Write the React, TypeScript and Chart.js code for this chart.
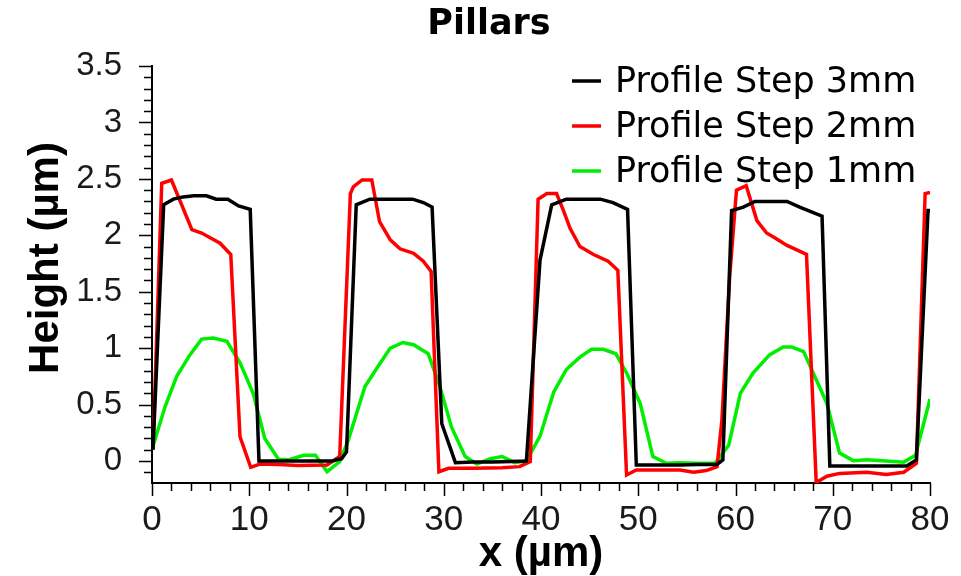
import React, { useEffect, useRef } from "react";
import { Chart, registerables } from "chart.js";

Chart.register(...registerables);

const chartTitle = "Pillars";
const xAxisTitle = "x (µm)";
const yAxisTitle = "Height (µm)";
const seriesNames = ["Profile Step 3mm", "Profile Step 2mm", "Profile Step 1mm"];
const seriesColors = ["#000000", "#ff0000", "#00ee00"];

const yTickValues = [0, 0.5, 1, 1.5, 2, 2.5, 3, 3.5];
const xTickValues = [0, 10, 20, 30, 40, 50, 60, 70, 80];

const step3X = [0.1, 1.2, 2.2, 3.2, 4.3, 5.6, 6.6, 7.8, 8.9, 10.1, 11.0, 13, 15, 17, 18.5, 19.5, 20.0, 21.0, 22.4, 24, 25.5, 26.8, 27.9, 28.8, 29.8, 31.2, 33, 35, 37, 38.5, 39.9, 41.1, 42.6, 44, 46.1, 47.4, 48.9, 49.8, 52, 54.3, 56, 58.1, 58.7, 59.6, 60.8, 62.0, 63.5, 65.3, 66.6, 68.9, 69.7, 72, 74, 76, 77.6, 78.6, 79.8, 80];
const step3Y = [0.1, 2.27, 2.32, 2.34, 2.35, 2.35, 2.32, 2.32, 2.26, 2.23, 0.0, 0.0, 0.0, 0.0, 0.0, 0.02, 0.08, 2.27, 2.32, 2.32, 2.32, 2.32, 2.29, 2.25, 0.33, -0.015, -0.01, -0.01, -0.005, 0.0, 1.78, 2.27, 2.32, 2.32, 2.32, 2.29, 2.23, -0.035, -0.035, -0.035, -0.03, -0.03, 0.01, 2.22, 2.25, 2.3, 2.3, 2.3, 2.25, 2.17, -0.045, -0.045, -0.045, -0.045, -0.045, 0.01, 2.22, 2.22];

const step2X = [0.1, 1.0, 2.0, 4.1, 5.1, 7.0, 8.1, 9.05, 10.15, 11.1, 13, 15, 18.0, 19.3, 20.4, 20.7, 21.6, 22.6, 23.4, 24.5, 25.5, 26.9, 27.9, 28.7, 29.5, 30.5, 33, 36, 37.8, 38.9, 39.7, 40.6, 41.6, 42.3, 43.0, 44.0, 45.4, 46.9, 47.9, 48.8, 49.8, 52.2, 54.3, 55.7, 57.0, 58.1, 58.6, 59.4, 60.1, 61.1, 62.2, 63.2, 64.2, 65.3, 66.3, 67.3, 68.3, 69.4, 70.7, 73.5, 75.5, 77.3, 78.6, 79.5, 80];
const step2Y = [0.1, 2.46, 2.49, 2.05, 2.02, 1.93, 1.83, 0.215, -0.056, -0.027, -0.03, -0.04, -0.035, 0.04, 2.37, 2.43, 2.49, 2.49, 2.12, 1.96, 1.88, 1.84, 1.77, 1.68, -0.095, -0.065, -0.065, -0.06, -0.05, -0.006, 2.32, 2.37, 2.37, 2.22, 2.06, 1.9, 1.83, 1.77, 1.69, -0.124, -0.08, -0.08, -0.08, -0.1, -0.085, -0.05, 0.36, 1.63, 2.4, 2.44, 2.13, 2.02, 1.97, 1.91, 1.87, 1.83, -0.19, -0.135, -0.11, -0.1, -0.12, -0.1, -0.02, 2.37, 2.38];

const step1X = [0.1, 1.34, 2.54, 3.9, 5.1, 6.3, 7.7, 9.05, 10.4, 11.6, 13.0, 14.0, 15.6, 16.8, 18.0, 19.3, 20.2, 21.9, 23.1, 24.5, 25.8, 26.9, 28.4, 29.6, 30.8, 32.2, 33.4, 34.8, 36.0, 37.3, 38.5, 39.9, 41.3, 42.6, 44.0, 45.2, 46.4, 47.7, 48.8, 50.2, 51.5, 52.9, 54.3, 56, 57.9, 59.3, 60.5, 61.8, 63.5, 64.9, 65.8, 67.0, 69.4, 70.7, 72.1, 73.5, 75.5, 77.3, 78.5, 80];
const step1Y = [0.13, 0.48, 0.75, 0.94, 1.08, 1.09, 1.06, 0.87, 0.6, 0.2, 0.015, 0.01, 0.05, 0.05, -0.095, -0.005, 0.19, 0.66, 0.82, 1.0, 1.05, 1.03, 0.95, 0.66, 0.3, 0.04, -0.027, 0.02, 0.04, -0.015, 0.0, 0.22, 0.61, 0.81, 0.92, 0.99, 0.99, 0.95, 0.78, 0.51, 0.04, -0.02, -0.015, -0.02, -0.02, 0.14, 0.6, 0.78, 0.94, 1.01, 1.01, 0.97, 0.51, 0.07, 0.003, 0.01, 0.0, -0.01, 0.05, 0.55];

const toPoints = (xs: number[], ys: number[]) => xs.map((x, i) => ({ x, y: ys[i] }));

const tickMarksPlugin = {
  id: "tickMarks",
  afterDraw(chart: any) {
    const { ctx, chartArea, scales } = chart;
    const xs = scales.x;
    const ys = scales.y;
    ctx.save();
    ctx.strokeStyle = "#000";
    ctx.lineWidth = 1.5;
    ctx.beginPath();
    for (let i = -1; i <= 35; i++) {
      const v = i / 10;
      const py = Math.round(ys.getPixelForValue(v)) + 0.5;
      const len = i % 5 === 0 ? 13 : 8;
      ctx.moveTo(chartArea.left - len, py);
      ctx.lineTo(chartArea.left, py);
    }
    for (let i = 0; i <= 40; i++) {
      const v = i * 2;
      const px = Math.round(xs.getPixelForValue(v)) + 0.5;
      const len = v % 10 === 0 ? 13 : 8;
      ctx.moveTo(px, chartArea.bottom);
      ctx.lineTo(px, chartArea.bottom + len);
    }
    ctx.stroke();
    ctx.restore();
  },
};

const yTitlePlugin = {
  id: "yTitle",
  afterDraw(chart: any) {
    const { ctx } = chart;
    ctx.save();
    ctx.translate(46, 258);
    ctx.rotate(-Math.PI / 2);
    ctx.font = "bold 42px 'Liberation Sans', Arial, sans-serif";
    ctx.fillStyle = "#000";
    ctx.textAlign = "center";
    ctx.textBaseline = "middle";
    ctx.fillText(yAxisTitle, 0, 0);
    ctx.restore();
  },
};

const legendPlugin = {
  id: "insideLegend",
  afterDraw(chart: any) {
    const { ctx, chartArea } = chart;
    const x0 = chartArea.right - 358;
    ctx.save();
    ctx.font = "35px 'DejaVu Sans', sans-serif";
    ctx.textAlign = "left";
    ctx.textBaseline = "middle";
    chart.data.datasets.forEach((ds: any, i: number) => {
      const y = chartArea.top + 15 + i * 45;
      ctx.strokeStyle = ds.borderColor;
      ctx.lineWidth = 3.5;
      ctx.beginPath();
      ctx.moveTo(x0, y);
      ctx.lineTo(x0 + 29, y);
      ctx.stroke();
      ctx.fillStyle = "#000";
      ctx.fillText(ds.label, x0 + 43, y + 2);
    });
    ctx.restore();
  },
};

export default function App() {
  const canvasRef = useRef<HTMLCanvasElement>(null);

  useEffect(() => {
    document.body.style.margin = "0";
    const canvas = canvasRef.current;
    if (!canvas) return;
    const datasets = [
      toPoints(step3X, step3Y),
      toPoints(step2X, step2Y),
      toPoints(step1X, step1Y),
    ].map((data, i) => ({
      label: seriesNames[i],
      data,
      borderColor: seriesColors[i],
      backgroundColor: seriesColors[i],
      borderWidth: 3.5,
      pointRadius: 0,
      tension: 0,
      fill: false,
    }));
    const chart = new Chart(canvas, {
      type: "line",
      data: { datasets },
      plugins: [tickMarksPlugin, yTitlePlugin, legendPlugin],
      options: {
        animation: false,
        responsive: true,
        maintainAspectRatio: false,
        layout: { padding: { left: 48, right: 31, top: 0, bottom: 0 } },
        plugins: {
          legend: { display: false },
          tooltip: { enabled: false },
          title: {
            display: true,
            text: chartTitle,
            color: "#000",
            font: { family: "'DejaVu Sans', sans-serif", size: 35, weight: "bold", lineHeight: 1.2 },
            padding: { top: 4, bottom: 20 },
          },
        },
        scales: {
          x: {
            type: "linear",
            min: 0,
            max: 80,
            afterBuildTicks: (scale: any) => {
              scale.ticks = xTickValues.map((v) => ({ value: v }));
            },
            afterFit: (scale: any) => {
              scale.height = 93;
            },
            grid: { display: false },
            border: { display: true, color: "#000", width: 2 },
            ticks: {
              color: "#1a1a1a",
              padding: 8,
              maxRotation: 0,
              autoSkip: false,
              callback: (v: any) => String(v),
              font: { family: "'Liberation Sans', Arial, sans-serif", size: 35 },
            },
            title: {
              display: true,
              text: xAxisTitle,
              color: "#000",
              font: { family: "'Liberation Sans', Arial, sans-serif", size: 42, weight: "bold", lineHeight: 1.2 },
              padding: { top: 0, bottom: -4 },
            },
          },
          y: {
            type: "linear",
            min: -0.195,
            max: 3.5,
            afterBuildTicks: (scale: any) => {
              scale.ticks = yTickValues.map((v) => ({ value: v }));
            },
            afterFit: (scale: any) => {
              scale.width = 104;
            },
            grid: { display: false },
            border: { display: true, color: "#000", width: 2 },
            ticks: {
              color: "#1a1a1a",
              padding: 22,
              autoSkip: false,
              callback: (v: any) => String(v),
              font: { family: "'Liberation Sans', Arial, sans-serif", size: 33 },
            },
          },
        },
      },
    });
    return () => chart.destroy();
  }, []);

  return (
    <div style={{ position: "absolute", left: 0, top: 0, width: 961, height: 576 }}>
      <canvas ref={canvasRef} />
    </div>
  );
}
